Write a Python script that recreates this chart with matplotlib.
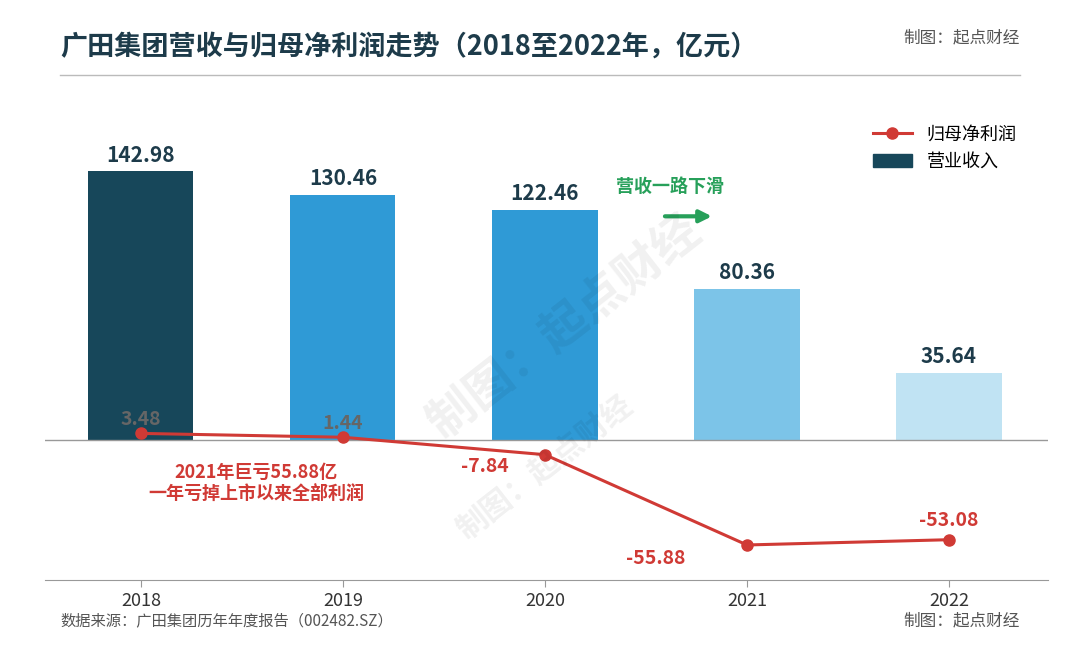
import matplotlib.pyplot as plt
from matplotlib.lines import Line2D
from matplotlib.patches import Patch

plt.rcParams['font.family'] = ['Noto Sans CJK SC', 'DejaVu Sans']

years = ['2018', '2019', '2020', '2021', '2022']
revenue = [142.98, 130.46, 122.46, 80.36, 35.64]
profit = [3.48, 1.44, -7.84, -55.88, -53.08]
bar_colors = ['#17475a', '#2f9ad6', '#2f9ad6', '#7cc4e8', '#c0e3f3']
red = '#d03a35'

fig = plt.figure(figsize=(10.8, 6.48), dpi=100)
ax = fig.add_axes([45 / 1080, 0.105, (1048 - 45) / 1080, 0.741])
x = list(range(len(years)))

ax.bar(x, revenue, width=0.52, color=bar_colors, zorder=1)
for i, v in enumerate(revenue):
    ax.text(i, v + 3, f'{v:.2f}', ha='center', va='bottom', fontsize=15,
            fontweight='bold', color='#1d3b4a')

ax.axhline(0, color='#999999', lw=1, zorder=2)
ax.plot(x, profit, color=red, lw=2.2, marker='o', ms=8, zorder=3)
offsets = [(0, 2.5, 'center', 'bottom', '#666666'), (0, 2.5, 'center', 'bottom', '#666666'),
           (-0.3, -1, 'center', 'top', red), (-0.45, -2, 'center', 'top', red),
           (0, 5, 'center', 'bottom', red)]
for i, v in enumerate(profit):
    dx, dy, ha, va, c = offsets[i]
    ax.text(i + dx, v + dy, f'{v:.2f}', ha=ha, va=va, fontsize=14,
            fontweight='bold', color=c, zorder=4)

ax.text(0.57, -23, '2021年巨亏55.88亿\n一年亏掉上市以来全部利润', ha='center', va='center',
        fontsize=13, fontweight='bold', color=red, linespacing=1.1)
ax.text(2.35, 135, '营收一路下滑', ha='left', va='center', fontsize=13,
        fontweight='bold', color='#27a05a')
ax.annotate('', xy=(2.84, 119), xytext=(2.58, 119),
            arrowprops=dict(arrowstyle='-|>', color='#27a05a', lw=3, mutation_scale=18))

ax.text(2.1, 60, '制图：起点财经', fontsize=34, color='#000000', alpha=0.06,
        rotation=38, ha='center', va='center', fontweight='bold')
ax.text(2.0, -15, '制图：起点财经', fontsize=22, color='#000000', alpha=0.06,
        rotation=38, ha='center', va='center', fontweight='bold')

ax.set_xlim(-0.475, 4.49)
ax.set_ylim(-74.5, 181)
ax.set_xticks(x)
ax.set_xticklabels(years, fontsize=13, color='#333333')
ax.tick_params(axis='x', length=5, color='#999999')
ax.set_yticks([])
for s in ['left', 'right', 'top']:
    ax.spines[s].set_visible(False)
ax.spines['bottom'].set_color('#999999')

handles = [Line2D([0], [0], color=red, lw=2.2, marker='o', ms=8),
           Patch(color='#17475a')]
ax.legend(handles, ['归母净利润', '营业收入'], loc='upper right', bbox_to_anchor=(0.985, 0.98),
          frameon=False, fontsize=13, handlelength=2.2)

fig.text(60 / 1080, 1 - 47 / 648, '广田集团营收与归母净利润走势（2018至2022年，亿元）',
         fontsize=19.5, fontweight='bold', color='#1d3b4a', va='center')
fig.text(1020 / 1080, 1 - 38 / 648, '制图：起点财经', fontsize=12, color='#555555',
         ha='right', va='center')
fig.add_artist(Line2D([60 / 1080, 1020 / 1080], [1 - 75 / 648, 1 - 75 / 648],
                      color='#bbbbbb', lw=1))
fig.text(60 / 1080, 1 - 621 / 648, '数据来源：广田集团历年年度报告（002482.SZ）',
         fontsize=11, color='#555555', va='center')
fig.text(1020 / 1080, 1 - 621 / 648, '制图：起点财经', fontsize=12, color='#555555',
         ha='right', va='center')

fig.savefig('out.png', dpi=100, facecolor='white')
